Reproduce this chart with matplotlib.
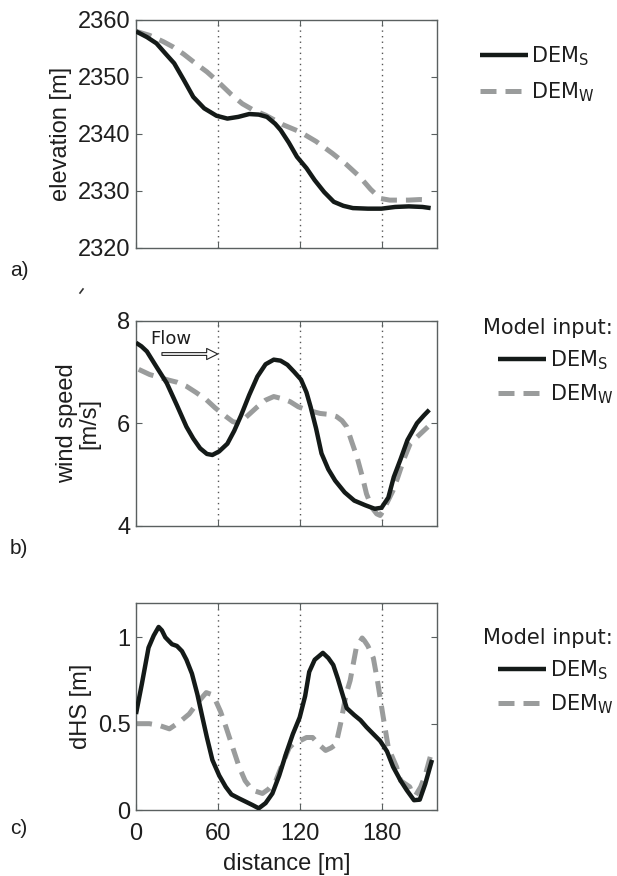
import matplotlib
matplotlib.use("Agg")
import matplotlib.pyplot as plt
from matplotlib.lines import Line2D

plt.rcParams['font.family'] = ['Liberation Sans', 'DejaVu Sans']
plt.rcParams['mathtext.fontset'] = 'custom'
plt.rcParams['mathtext.rm'] = 'DejaVu Sans'
plt.rcParams['mathtext.it'] = 'DejaVu Sans'

# ---------------- data ----------------
elev_s_x = [0, 8, 15, 22, 28, 35, 42, 50, 59, 67, 75, 83, 90, 96, 102, 106, 112, 118, 125, 131,
            138, 145, 152, 159, 170, 180, 190, 200, 210, 216]
elev_s_y = [2358, 2357, 2355.9, 2354, 2352.4, 2349.5, 2346.5, 2344.5, 2343.2, 2342.7, 2343.0, 2343.5,
            2343.4, 2343.0, 2341.8, 2340.7, 2338.5, 2336, 2334, 2331.9, 2329.8, 2328.1, 2327.4, 2327,
            2326.9, 2326.9, 2327.2, 2327.3, 2327.2, 2327.0]
elev_w_x = [0, 10, 20, 27, 35, 43, 52, 60, 70, 78, 86, 95, 108, 120, 132, 144, 154, 164, 172, 179,
            186, 193, 200, 208, 216]
elev_w_y = [2358, 2357.3, 2356.2, 2355.3, 2354, 2352.5, 2350.9, 2349.2, 2346.9, 2345.3, 2344.2,
            2343.3, 2341.6, 2340.4, 2338.7, 2336.6, 2334.7, 2332.5, 2330.3, 2328.7, 2328.4, 2328.4,
            2328.4, 2328.5, 2328.4]

wind_s_x = [0, 4, 8, 15, 22.6, 30, 37, 42, 47, 52, 56, 61, 67, 72, 77, 83, 89, 95, 101, 106, 111,
            116, 121, 125, 128, 132, 136, 141, 146, 153, 160, 168, 175, 180, 185, 189, 194, 199,
            206, 211, 215]
wind_s_y = [7.57, 7.5, 7.40, 7.1, 6.78, 6.35, 5.93, 5.7, 5.51, 5.4, 5.38, 5.45, 5.6, 5.85, 6.15,
            6.55, 6.91, 7.15, 7.24, 7.22, 7.14, 7.0, 6.85, 6.6, 6.32, 5.9, 5.41, 5.1, 4.88, 4.65,
            4.49, 4.4, 4.33, 4.35, 4.55, 4.95, 5.3, 5.67, 6.0, 6.15, 6.26]
wind_w_x = [2, 10, 22.6, 30, 37, 44, 51.5, 58, 66, 71, 76, 82, 89, 95, 101, 107, 113, 119, 125,
            135, 142, 147, 151, 154.5, 158, 162, 166, 169, 173, 176.5, 179, 181, 185, 188.5, 192,
            196.4, 201, 208, 214]
wind_w_y = [7.05, 6.95, 6.85, 6.8, 6.72, 6.6, 6.46, 6.3, 6.13, 6.03, 6.0, 6.15, 6.32, 6.45, 6.52,
            6.48, 6.42, 6.32, 6.26, 6.19, 6.17, 6.13, 6.05, 5.93, 5.65, 5.34, 4.95, 4.62, 4.35,
            4.23, 4.2, 4.29, 4.5, 4.69, 4.95, 5.3, 5.6, 5.78, 5.93]

dhs_s_x = [0, 4.3, 9.2, 13, 16.6, 19, 21.5, 26.4, 30, 33.7, 37, 41, 45, 48.6, 52, 56, 61, 65.8,
           70, 75.6, 80, 85.4, 90, 95, 100, 105, 110, 115, 120, 124, 127, 131, 137, 141, 144.6,
           148, 151, 154.5, 160, 164.6, 169, 174, 179, 184, 188.5, 194, 198.5, 203.8, 208, 212, 217]
dhs_s_y = [0.556, 0.73, 0.94, 1.01, 1.06, 1.04, 1.0, 0.96, 0.95, 0.92, 0.87, 0.79, 0.67, 0.54,
           0.42, 0.29, 0.2, 0.134, 0.09, 0.067, 0.05, 0.029, 0.01, 0.04, 0.096, 0.2, 0.326, 0.44,
           0.536, 0.66, 0.80, 0.87, 0.91, 0.88, 0.84, 0.76, 0.68, 0.59, 0.55, 0.52, 0.48, 0.44,
           0.40, 0.34, 0.25, 0.17, 0.115, 0.057, 0.06, 0.15, 0.29]
dhs_w_x = [0, 9.8, 17, 24.5, 32, 39, 45, 51.5, 55, 58.6, 62, 66, 71, 75.6, 80, 85.4, 92.7, 97,
           102.5, 107, 112.3, 116, 120, 125, 129.5, 134, 139, 143, 146.6, 150, 154, 157, 161.5,
           165.8, 167.5, 170, 174, 177, 181, 185, 191, 194, 200.7, 202.5, 205, 208.7, 212, 216]
dhs_w_y = [0.50, 0.50, 0.49, 0.47, 0.51, 0.556, 0.62, 0.68, 0.67, 0.63, 0.57, 0.48, 0.36, 0.25,
           0.17, 0.115, 0.096, 0.12, 0.17, 0.26, 0.36, 0.39, 0.40, 0.42, 0.42, 0.38, 0.345, 0.36,
           0.38, 0.5, 0.67, 0.75, 0.94, 0.996, 0.98, 0.95, 0.88, 0.75, 0.55, 0.36, 0.25, 0.17,
           0.134, 0.097, 0.085, 0.134, 0.2, 0.316]

x_ticks = [0, 60, 120, 180]
grid_x = [60, 120, 180]
labels = ['DEM$_\\mathrm{S}$', 'DEM$_\\mathrm{W}$']

# ---------------- figure ----------------
fig = plt.figure(figsize=(6.17, 8.76), dpi=100)
L, W = 0.2204, 0.4886
ax_a = fig.add_axes([L, 0.7169, W, 0.2603])
ax_b = fig.add_axes([L, 0.3999, W, 0.2340])
ax_c = fig.add_axes([L, 0.0753, W, 0.2366])

black = '#141a18'
gray = '#9a9c9c'
spine_c = '#5a6060'
txt_c = '#1e1e1e'

def style(ax, ylim, yticks):
    ax.set_xlim(0, 221)
    ax.set_ylim(*ylim)
    ax.set_xticks(x_ticks)
    ax.set_yticks(yticks)
    for gx in grid_x:
        ax.axvline(gx, color='#555555', lw=1.0, ls=(0, (1, 3)), zorder=0)
    for s in ax.spines.values():
        s.set_color(spine_c)
        s.set_linewidth(1.0)
    ax.tick_params(direction='in', length=4, width=0.8, colors=spine_c,
                   labelcolor=txt_c, labelsize=17, top=True, right=True, pad=4)

def plot_pair(ax, xs, ys, xw, yw):
    ax.plot(xs, ys, color=black, lw=3.2, solid_capstyle='butt', label=labels[0], zorder=3)
    ax.plot(xw, yw, color=gray, lw=3.6, ls=(0, (3.2, 1.8)), label=labels[1], zorder=2)

plot_pair(ax_a, elev_s_x, elev_s_y, elev_w_x, elev_w_y)
style(ax_a, (2320, 2360), [2320, 2330, 2340, 2350, 2360])
ax_a.set_xticklabels([])
ax_a.set_ylabel('elevation [m]', fontsize=17, labelpad=4, color=txt_c)

plot_pair(ax_b, wind_s_x, wind_s_y, wind_w_x, wind_w_y)
style(ax_b, (4, 8), [4, 6, 8])
ax_b.set_xticklabels([])
ax_b.set_ylabel('wind speed\n[m/s]', fontsize=17, labelpad=12, linespacing=1.05, color=txt_c)

plot_pair(ax_c, dhs_s_x, dhs_s_y, dhs_w_x, dhs_w_y)
style(ax_c, (0, 1.2), [0, 0.5, 1])
ax_c.set_yticklabels(['0', '0.5', '1'])
ax_c.set_ylabel('dHS [m]', fontsize=17, labelpad=4, color=txt_c)
ax_c.tick_params(axis='x', pad=9)
ax_c.set_xlabel('distance [m]', fontsize=17, labelpad=6, color=txt_c)

# Flow annotation
ax_b.text(10.5, 7.64, 'Flow', fontsize=13, family='DejaVu Sans',
          va='center', ha='left', color=txt_c)
ax_b.annotate('', xy=(62, 7.35), xytext=(17, 7.35),
              arrowprops=dict(arrowstyle='simple,head_length=0.8,head_width=0.8,tail_width=0.2',
                              fc='white', ec='#222222', lw=0.8))

# legends
leg_kw = dict(frameon=False, handlelength=2.3, handletextpad=0.15, labelspacing=0.6,
              prop={'family': 'DejaVu Sans', 'size': 15}, borderaxespad=0, borderpad=0,
              labelcolor=txt_c, bbox_transform=fig.transFigure)
h_a, l_a = ax_a.get_legend_handles_labels()
ax_a.legend(h_a, l_a, loc='upper left', bbox_to_anchor=(480 / 617, 1 - 44 / 876), **leg_kw)
for ax, top in ((ax_b, 318), (ax_c, 628)):
    h, l = ax.get_legend_handles_labels()
    kw = dict(leg_kw)
    kw['labelspacing'] = 0.5
    lg = ax.legend(h, l, loc='upper right', bbox_to_anchor=(613 / 617, 1 - top / 876),
                   alignment='right', title='Model input:',
                   title_fontproperties={'family': 'DejaVu Sans', 'size': 15}, **kw)
    lg.get_title().set_color(txt_c)

# panel letters
for txt, yy in (('a)', 1 - 270 / 876), ('b)', 1 - 548 / 876), ('c)', 1 - 828 / 876)):
    fig.text(10 / 617, yy, txt, fontsize=15, va='center', ha='left', color=txt_c)

# small stray mark near panel b label
fig.add_artist(Line2D([80 / 617, 83 / 617], [1 - 293 / 876, 1 - 289 / 876],
                      color='#333333', lw=1.2))

fig.savefig('out.png', dpi=100)
